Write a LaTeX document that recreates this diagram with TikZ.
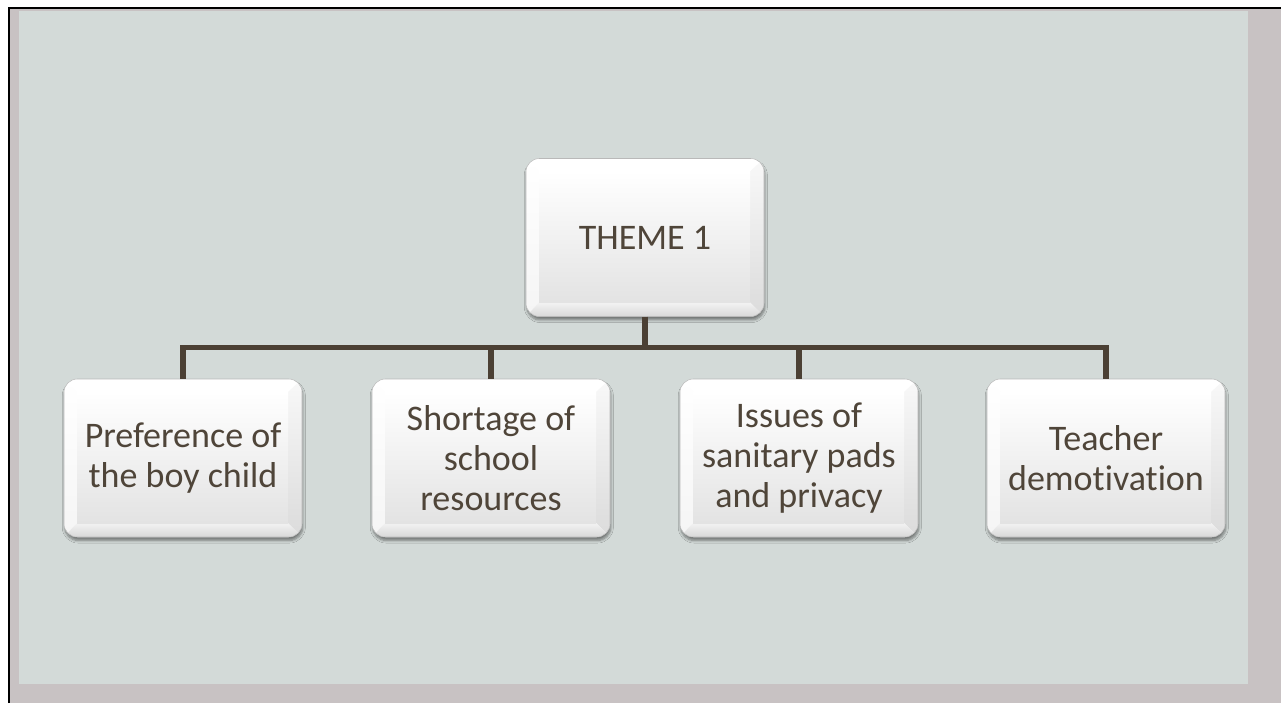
\documentclass[tikz,border=0pt]{standalone}
\usepackage{fontspec}
\setmainfont[Ligatures={NoCommon}]{Carlito}
\usetikzlibrary{calc,shadows.blur}
\definecolor{bgout}{HTML}{C8C2C3}
\definecolor{bgin}{HTML}{D3DAD8}
\definecolor{txt}{HTML}{4F4539}
\definecolor{ln}{HTML}{4B4034}
\tikzset{
  bevbox/.style={
    minimum width=178.5pt, minimum height=118.5pt, rounded corners=10pt,
    draw=gray!55, line width=0.4pt, fill=white, align=center, text=txt,
    font=\fontsize{27}{30}\selectfont, inner sep=0pt,
    blur shadow={shadow xshift=0.6pt, shadow yshift=-2.6pt, shadow blur steps=6, shadow opacity=45},
    path picture={
      \coordinate (A) at (path picture bounding box.north west);
      \coordinate (B) at (path picture bounding box.north east);
      \coordinate (C) at (path picture bounding box.south east);
      \coordinate (D) at (path picture bounding box.south west);
      \coordinate (a) at ($(A)+(9.75pt,-9.75pt)$);
      \coordinate (b) at ($(B)+(-10.5pt,-9.75pt)$);
      \coordinate (c) at ($(C)+(-10.5pt,10.5pt)$);
      \coordinate (d) at ($(D)+(9.75pt,10.5pt)$);
      \fill[sharp corners,white] (A)--(B)--(b)--(a)--cycle;
      \shade[sharp corners,top color=white,bottom color=gray!8] (A)--(a)--(d)--(D)--cycle;
      \shade[sharp corners,top color=gray!5,bottom color=gray!28] (B)--(C)--(c)--(b)--cycle;
      \shade[sharp corners,top color=gray!10,bottom color=gray!30] (D)--(d)--(c)--(C)--cycle;
      \shade[sharp corners,top color=white,bottom color=gray!22] (a) rectangle (c);
    }
  },
  conn/.style={draw=ln, line width=3.9pt}
}
\begin{document}
\begin{tikzpicture}[x=0.75pt,y=-0.75pt]
\useasboundingbox (0,0) rectangle (1281,703);
\fill[white] (0,0) rectangle (1281,703);
\fill[bgout] (10,9) rectangle (1281,703);
\fill[bgin] (19,11) rectangle (1248,684);
\draw[line width=2.1pt] (9,703) -- (9,8) -- (1281,8);

\node[bevbox] (t) at (645,237.5) {THEME 1};
\node[bevbox] (c1) at (183,458) {Preference of\\the boy child};
\node[bevbox] (c2) at (491,458) {Shortage of\\school\\resources};
\node[bevbox] (c3) at (799,458) {Issues of\\sanitary pads\\and privacy};
\node[bevbox] (c4) at (1106,458) {Teacher\\demotivation};

\draw[conn] (t.south) -- ++(0,31) -| (c1.north);
\draw[conn] (t.south) -- ++(0,31) -| (c2.north);
\draw[conn] (t.south) -- ++(0,31) -| (c3.north);
\draw[conn] (t.south) -- ++(0,31) -| (c4.north);
\end{tikzpicture}
\end{document}
